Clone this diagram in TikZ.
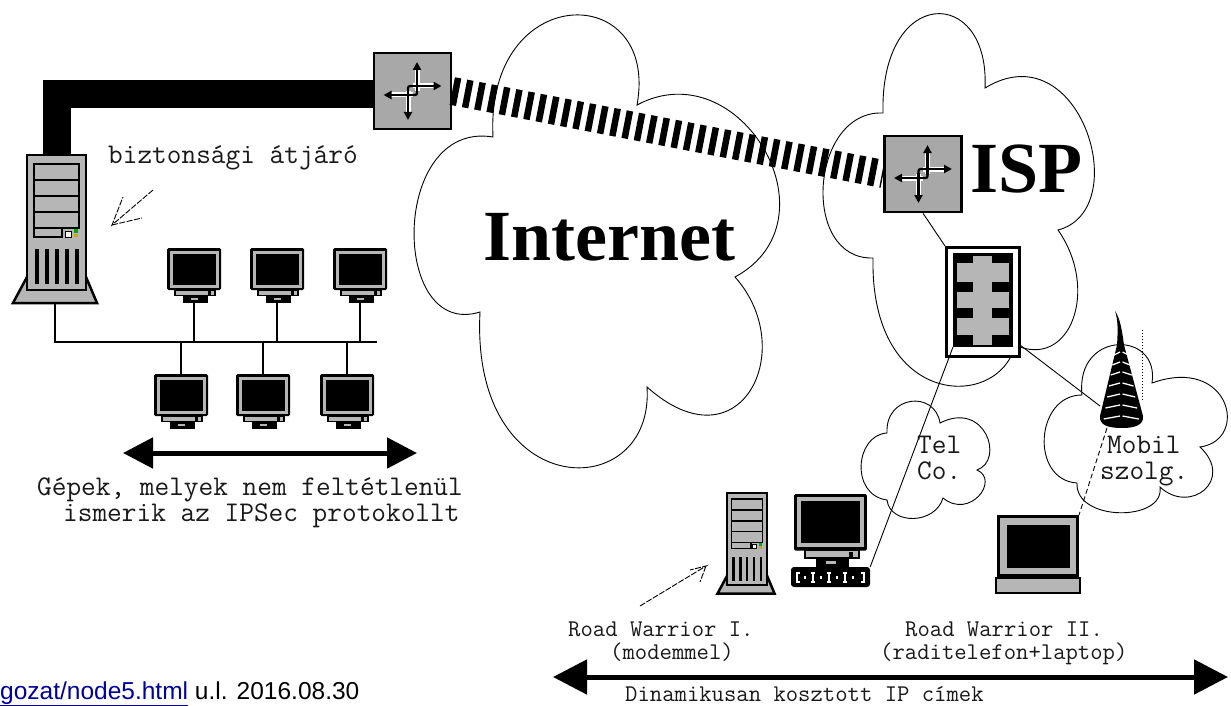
\documentclass[tikz,border=0pt]{standalone}
\usepackage{fontspec}
\usetikzlibrary{arrows.meta,calc}
\newfontfamily\seriffam{Liberation Serif}
\newfontfamily\sansfam{Liberation Sans}
\definecolor{boxgray}{RGB}{168,168,168}
\definecolor{partgray}{RGB}{182,182,182}
\definecolor{linkblue}{RGB}{0,0,150}
\definecolor{ledgreen}{RGB}{0,170,0}
\definecolor{ledyellow}{RGB}{200,170,0}
\definecolor{textgray}{RGB}{25,25,25}

\tikzset{
  lbl/.style={font=\ttfamily\fontsize{28.5}{26}\selectfont, inner sep=0pt, text=textgray, align=left},
  lblsm/.style={font=\ttfamily\fontsize{24}{23}\selectfont, inner sep=0pt, text=textgray, align=left},
  bigname/.style={font=\seriffam\bfseries\fontsize{72}{80}\selectfont, inner sep=0pt},
  cloudline/.style={draw=black, line width=0.9pt, fill=white},
  thinlink/.style={line width=0.9pt},
  sketch/.style={line width=0.9pt, dash pattern=on 6pt off 1.5pt},
  bigarrow/.style={line width=5pt, {Triangle[length=30pt,width=30pt]}-{Triangle[length=30pt,width=30pt]}},
  pipe/.style={line width=28pt, line join=miter},
  tunnel/.style={line width=28pt, dash pattern=on 6.5pt off 6pt},
  router/.style={draw, line width=2.5pt, fill=boxgray, minimum width=77pt, minimum height=76pt, inner sep=0pt},
  rarrow/.style={black, line width=2.2pt, -{Triangle[length=8pt,width=8pt]}},
  rhalo/.style={white, line width=5pt, shorten >=6pt},
  % desktop monitor, origin at top centre
  monitor/.pic={
    \fill[black, rounded corners=1.5pt] (-27,0) rectangle (27,42);
    \fill[partgray] (-24.5,2.5) rectangle (24.5,39.5);
    \fill[black] (-21.5,5.5) rectangle (21.5,36.5);
    \draw[line width=1.3pt, fill=partgray] (-19,42) rectangle (21,47.5);
    \fill[black] (14,43) rectangle (17,46.5);
    \draw[line width=1.3pt, fill=black] (-10,47.5) rectangle (13,54);
    \fill[partgray] (-3,49.5) rectangle (4,52);
    \coordinate (-top) at (0,0);
    \coordinate (-bottom) at (0,54);
  },
  % tower computer, origin at top left of the case
  tower/.pic={
    \draw[line width=2.5pt, fill=partgray] (-14,148) -- (70,148) -- (59,122) -- (0,122) -- cycle;
    \draw[line width=2.5pt, fill=partgray] (0,0) rectangle (59,135);
    \foreach \i in {0,...,3}
      \draw[line width=1.4pt, fill=partgray] (7,{9+16*\i}) rectangle (52,{25+16*\i});
    \draw[line width=1.4pt, fill=partgray] (7,73) rectangle (35,82);
    \draw[line width=1pt, fill=white] (38,76) rectangle (44,82);
    \fill[ledgreen] (47,74) rectangle (51,77.5);
    \fill[ledyellow] (47,78.5) rectangle (51,82);
    \foreach \x in {8,18,28,38,48}
      \fill[black] (\x,94) rectangle ({\x+3.5},129);
    \coordinate (-top) at (29.5,0);
    \coordinate (-base) at (28,148);
  },
  % four-way arrows of a router, origin at the centre
  routericon/.pic={
    \draw[rhalo] (4.5,0) -- (4.5,-29);
    \draw[rhalo] (0,-5) -- (29,-5);
    \draw[rhalo] (-4.5,0) -- (-4.5,29);
    \draw[rhalo] (0,4) -- (-29,4);
    \draw[rarrow] (4.5,1) -- (4.5,-29);
    \draw[rarrow] (-1,-5) -- (29,-5);
    \draw[rarrow] (-4.5,-1) -- (-4.5,29);
    \draw[rarrow] (1,4) -- (-29,4);
    \draw[black, line width=2.2pt] (4.5,0) .. controls (4.5,4) .. (0,4);
    \draw[black, line width=2.2pt] (-4.5,0) .. controls (-4.5,-5) .. (0,-5);
  }
}

\begin{document}
\begin{tikzpicture}[x=1pt, y=-1pt]
\useasboundingbox (0,0) rectangle (1231,706);
\fill[white] (0,0) rectangle (1231,706);

% ---- clouds ----
\draw[cloudline] (493,137) .. controls (485,-20) and (660,-20) .. (637,105)
  .. controls (740,50) and (840,220) .. (735,277)
  .. controls (800,350) and (740,470) .. (647,387)
  .. controls (655,505) and (470,505) .. (480,312)
  .. controls (390,340) and (390,120) .. (493,137) -- cycle;
\draw[cloudline] (883,113) .. controls (880,-15) and (990,-15) .. (985,88)
  .. controls (1080,30) and (1135,210) .. (1058,230)
  .. controls (1100,290) and (1070,370) .. (1015,345)
  .. controls (1000,410) and (870,410) .. (873,258)
  .. controls (800,260) and (810,110) .. (883,113) -- cycle;
\draw[cloudline] (887,433) .. controls (885,395) and (935,390) .. (940,423)
  .. controls (985,400) and (1005,460) .. (977,470)
  .. controls (1000,480) and (970,520) .. (943,498)
  .. controls (935,525) and (890,525) .. (887,500)
  .. controls (850,495) and (855,435) .. (887,433) -- cycle;
\draw[cloudline] (1082,395) .. controls (1075,330) and (1160,330) .. (1152,383)
  .. controls (1230,355) and (1250,440) .. (1200,447)
  .. controls (1235,480) and (1190,515) .. (1160,487)
  .. controls (1165,522) and (1075,522) .. (1077,483)
  .. controls (1030,480) and (1035,395) .. (1082,395) -- cycle;

\node[bigname, anchor=base west] (inet) at (483,260) {Internet};
\node[bigname, anchor=base west] (isp) at (970,192) {ISP};

% ---- security gateway and local network ----
\pic (srv) at (27,155) {tower};
\node[router] (r1) at (412.5,91) {};
\node[router] (r2) at (923,174) {};
\draw[pipe] (srv-top) |- ($(r1.west)+(0,3)$);
\draw[tunnel] (r1.east) -- (r2.west);
\pic at (r1.center) {routericon};
\pic at (r2.center) {routericon};

\coordinate (busL) at (55,342);
\coordinate (busR) at (377,342);
\draw[line width=2.6pt] (srv-base) -- (busL) -- (busR);

\pic (m1) at (194,248) {monitor};
\pic (m2) at (277,248) {monitor};
\pic (m3) at (360,248) {monitor};
\pic (m4) at (181,374) {monitor};
\pic (m5) at (263,374) {monitor};
\pic (m6) at (347,374) {monitor};
\foreach \m in {m1,m2,m3}
  \draw[line width=2.6pt] (\m-bottom) -- (\m-bottom |- busL);
\foreach \m in {m4,m5,m6}
  \draw[line width=2.6pt] (\m-top) -- (\m-top |- busL);

\node[lbl, anchor=base west] (gw) at (108,164) {biztonsági átjáró};
\coordinate (gwA) at (153,190);
\coordinate (gwT) at (112,225);
\draw[sketch] (gwA) -- (gwT) -- (123,197);
\draw[sketch] (gwT) -- (142,218);

\coordinate (lanL) at (123,453);
\coordinate (lanR) at (417,453);
\draw[bigarrow] (lanL) -- (lanR);
% anchor 'base' of a two-line node is the baseline of its last line
\node[lbl, anchor=base west] (lan) at (37,521)
  {Gépek, melyek nem feltétlenül\\\hspace*{26pt}ismerik az IPSec protokollt};

% ---- ISP firewall ----
\node[draw, line width=3pt, fill=white, minimum width=73pt, minimum height=109pt, inner sep=0pt] (fw) at (983,302) {};
\begin{scope}[shift={(fw.center)}]
  \fill[black] (-30,-49) rectangle (30,45);
  \fill[partgray] (-10,-46) rectangle (9,43);
  \fill[partgray] (-26,-39) rectangle (26,-20);
  \fill[partgray] (-26,-10) rectangle (26,6);
  \fill[partgray] (-26,16) rectangle (26,33);
\end{scope}
\coordinate (fwBL) at (953,347);
\coordinate (fwBR) at (1020,345);
\draw[thinlink] (r2.south) -- (fw.north west);

% ---- Road Warrior I ----
\pic[scale=0.68] (rwt) at (727,493) {tower};
\node[draw=none, inner sep=0pt] (rwm) at (830.5,494) {};
\pic[scale=1.35] at (rwm) {monitor};
\node[fill=black, rounded corners=3pt, minimum width=79pt, minimum height=20pt, inner sep=0pt] (modem) at (830.5,577) {};
\begin{scope}[white, line width=1.1pt]
  \draw (800,573) -- (797,573) -- (797,582) -- (800,582);
  \draw (861,573) -- (864,573) -- (864,582) -- (861,582);
  \foreach \x in {813,829,845} {
    \draw (\x-2,573) -- (\x+2,573);
    \draw (\x,573) -- (\x,582);
    \draw (\x-2,582) -- (\x+2,582);
  }
  \foreach \x in {805,821,837,853}
    \fill (\x-1.2,576.3) rectangle (\x+1.2,578.7);
\end{scope}
\draw[thinlink] (modem.north east) -- (fwBL);
\node[lbl, anchor=base west] (tel) at (917,479) {Tel\\Co.};
\coordinate (rwA) at (640,606);
\coordinate (rwT) at (706,566);
\draw[sketch] (rwA) -- (rwT) -- (690,570);
\draw[sketch] (rwT) -- (700,582);

% ---- radio tower and Road Warrior II ----
\fill[black] (1115,311) .. controls (1120,318) and (1122,330) .. (1124,345) -- (1143,416)
  .. controls (1144,425) and (1135,428) .. (1122,428)
  .. controls (1108,428) and (1099,425) .. (1100,416) -- (1117,345)
  .. controls (1118,330) and (1118,320) .. (1115,311) -- cycle;
\foreach \y in {352,362,372,383,394,405,416} {
  \pgfmathsetmacro\hw{(\y-311)*0.2}
  \draw[white, line width=1.3pt] ({1120.5-0.8*\hw},\y+3) -- (1120,\y);
  \draw[white, line width=1.3pt] (1122.5,\y) -- ({1122+0.8*\hw},\y+3);
}
\coordinate (antL) at (1100,406);
\coordinate (antB) at (1107,428);
\draw[thinlink] (fwBR) -- (antL);
\draw[dotted, line width=1pt] (1142,330) -- (1142,400);
\node[lbl, anchor=base west] (mob) at (1100,479) {\hspace*{7pt}Mobil\\szolg.};

\node[draw, line width=3pt, fill=partgray, minimum width=79pt, minimum height=59pt, inner sep=0pt] (lap) at (1038,546) {};
\fill[black] (1007,525) rectangle (1070,568);
\fill[black] (1010,576) rectangle (1013,579);
\fill[black] (1048,576) rectangle (1051,579);
\fill[black] (1062,576) rectangle (1065,579);
\draw[line width=1.5pt, fill=partgray] (996,578) rectangle (1080,593);
\draw[thinlink, dash pattern=on 5pt off 3pt] (antB) -- (lap.north east);

% ---- bottom captions ----
\node[lblsm, anchor=base west] (rw1) at (568,659) {Road Warrior I.\\\hspace*{42pt}(modemmel)};
\node[lblsm, anchor=base west] (rw2) at (880,659) {\hspace*{25pt}Road Warrior II.\\(raditelefon+laptop)};
\coordinate (dynL) at (553,677);
\coordinate (dynR) at (1228,677);
\draw[line width=5pt, {Triangle[length=34pt,width=34pt]}-{Triangle[length=34pt,width=34pt]}] (dynL) -- (dynR);
\node[lblsm, anchor=base west] (dyn) at (625,701) {Dinamikusan kosztott IP címek};

\node[anchor=base west, font=\sansfam\fontsize{24.5}{26}\selectfont, inner sep=0pt] (src) at (0,699)
  {\textcolor{linkblue}{\underline{gozat/node5.html}} u.l. 2016.08.30};
\end{tikzpicture}
\end{document}
